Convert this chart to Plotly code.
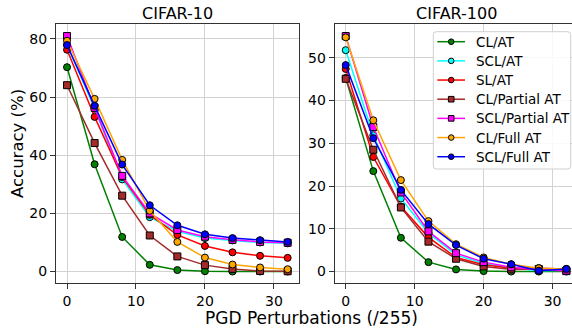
import plotly.graph_objects as go

x_vals = [0, 4, 8, 12, 16, 20, 24, 28, 32]
series_names = ["CL/AT", "SCL/AT", "SL/AT", "CL/Partial AT", "SCL/Partial AT", "CL/Full AT", "SCL/Full AT"]

c10_cl_at = [70.3, 36.9, 11.9, 2.3, 0.5, 0.1, 0.0, 0.0, 0.0]
c10_scl_at = [78.0, 56.0, 31.7, 18.7, 13.8, 11.5, 10.7, 10.0, 9.7]
c10_sl_at = [76.3, 53.2, 32.5, 19.5, 12.6, 8.8, 6.6, 5.4, 4.7]
c10_cl_partial = [64.1, 44.2, 26.1, 12.4, 5.2, 2.2, 0.9, 0.2, 0.1]
c10_scl_partial = [81.0, 56.3, 32.9, 20.0, 14.3, 12.0, 10.9, 10.2, 9.9]
c10_cl_full = [79.4, 59.4, 38.4, 20.9, 10.2, 4.8, 2.4, 1.4, 0.8]
c10_scl_full = [77.9, 57.0, 36.8, 22.8, 15.9, 12.8, 11.5, 10.8, 10.2]

c100_cl_at = [45.3, 23.5, 7.9, 2.2, 0.5, 0.1, 0.0, 0.0, 0.0]
c100_scl_at = [51.8, 31.9, 17.1, 9.0, 3.9, 1.9, 0.8, 0.2, 0.3]
c100_sl_at = [47.4, 26.8, 15.2, 8.0, 3.3, 1.6, 0.8, 0.8, 0.6]
c100_cl_partial = [45.1, 28.5, 15.0, 7.0, 3.0, 1.2, 0.5, 0.6, 0.1]
c100_scl_partial = [55.1, 33.8, 18.5, 9.4, 4.3, 2.2, 1.0, 0.4, 0.2]
c100_cl_full = [54.8, 35.4, 21.4, 11.8, 6.4, 3.3, 1.7, 0.8, 0.6]
c100_scl_full = [48.3, 31.2, 19.1, 11.1, 6.2, 3.0, 1.7, 0.2, 0.6]

colors = ["green", "cyan", "red", "brown", "magenta", "orange", "blue"]
symbols = ["circle", "circle", "circle", "square", "square", "circle", "circle"]

c10 = [c10_cl_at, c10_scl_at, c10_sl_at, c10_cl_partial, c10_scl_partial, c10_cl_full, c10_scl_full]
c100 = [c100_cl_at, c100_scl_at, c100_sl_at, c100_cl_partial, c100_scl_partial, c100_cl_full, c100_scl_full]

W, H = 572, 328
FONT = "DejaVu Sans"

fig = go.Figure()
for i, name in enumerate(series_names):
    mk = dict(symbol=symbols[i], color=colors[i], size=7,
              line=dict(color="black", width=1))
    fig.add_trace(go.Scatter(x=x_vals, y=c10[i], mode="lines+markers", name=name,
                             line=dict(color=colors[i], width=1.5), marker=mk,
                             xaxis="x", yaxis="y", showlegend=False))
for i, name in enumerate(series_names):
    mk = dict(symbol=symbols[i], color=colors[i], size=7,
              line=dict(color="black", width=1))
    fig.add_trace(go.Scatter(x=x_vals, y=c100[i], mode="lines+markers", name=name,
                             line=dict(color=colors[i], width=1.5), marker=mk,
                             xaxis="x2", yaxis="y2", showlegend=False))

def px_x(p):
    return p / W

def px_y(p):
    return 1 - p / H

left_dom = [px_x(56), px_x(298.7)]
right_dom = [px_x(334.7), 1.0]
y_dom = [px_y(283.3), px_y(24.3)]

axis_common = dict(
    showgrid=True, gridcolor="#d3d3d3", gridwidth=1.3,
    zeroline=False, ticks="outside", ticklen=5, tickwidth=1, tickcolor="#333",
    tickfont=dict(family=FONT, size=14, color="black"),
    linecolor="#333", linewidth=1, showline=True,
)

# ---- manual legend (matplotlib-style) ----
shapes = []
annotations = []
lx0, lx1, ly0, ly1 = 433.3, 570.7, 31.7, 169.0
r = 3
path = (f"M {px_x(lx0 + r)},{px_y(ly0)} L {px_x(lx1 - r)},{px_y(ly0)} "
        f"Q {px_x(lx1)},{px_y(ly0)} {px_x(lx1)},{px_y(ly0 + r)} "
        f"L {px_x(lx1)},{px_y(ly1 - r)} Q {px_x(lx1)},{px_y(ly1)} {px_x(lx1 - r)},{px_y(ly1)} "
        f"L {px_x(lx0 + r)},{px_y(ly1)} Q {px_x(lx0)},{px_y(ly1)} {px_x(lx0)},{px_y(ly1 - r)} "
        f"L {px_x(lx0)},{px_y(ly0 + r)} Q {px_x(lx0)},{px_y(ly0)} {px_x(lx0 + r)},{px_y(ly0)} Z")
shapes.append(dict(type="path", path=path, xref="paper", yref="paper",
                   fillcolor="rgba(255,255,255,0.85)", line=dict(color="#d0d0d0", width=1),
                   layer="above"))
item_y0, item_dy = 41.7, 19.17
for i, name in enumerate(series_names):
    yc = item_y0 + i * item_dy
    shapes.append(dict(type="line", xref="paper", yref="paper",
                       x0=px_x(437.3), x1=px_x(465), y0=px_y(yc), y1=px_y(yc),
                       line=dict(color=colors[i], width=1.5), layer="above"))
    s = 2.8
    shapes.append(dict(type="circle" if symbols[i] == "circle" else "rect",
                       xref="paper", yref="paper",
                       x0=px_x(451.2 - s), x1=px_x(451.2 + s), y0=px_y(yc + s), y1=px_y(yc - s),
                       fillcolor=colors[i], line=dict(color="black", width=1), layer="above"))
    annotations.append(dict(text=name, x=px_x(474), y=px_y(yc), xref="paper", yref="paper",
                            showarrow=False, xanchor="left", yanchor="middle",
                            font=dict(family=FONT, size=13.5, color="black")))

annotations += [
    dict(text="CIFAR-10", x=177.4 / W, y=px_y(13.5), xref="paper", yref="paper",
         showarrow=False, xanchor="center", yanchor="middle",
         font=dict(family=FONT, size=16, color="black")),
    dict(text="CIFAR-100", x=456 / W, y=px_y(13.5), xref="paper", yref="paper",
         showarrow=False, xanchor="center", yanchor="middle",
         font=dict(family=FONT, size=16, color="black")),
    dict(text="PGD Perturbations (/255)", x=311.7 / W, y=px_y(318), xref="paper", yref="paper",
         showarrow=False, xanchor="center", yanchor="middle",
         font=dict(family=FONT, size=17, color="black")),
    dict(text="Accuracy (%)", x=17.5 / W, y=px_y(143.5), xref="paper", yref="paper",
         showarrow=False, xanchor="center", yanchor="middle", textangle=-90,
         font=dict(family=FONT, size=16.5, color="black")),
]

fig.update_layout(
    width=W, height=H,
    margin=dict(l=0, r=0, t=0, b=0),
    paper_bgcolor="white", plot_bgcolor="white",
    font=dict(family=FONT, color="black"),
    showlegend=False,
    xaxis=dict(domain=left_dom, range=[-1.6, 33.6], tickvals=[0, 10, 20, 30],
               anchor="y", mirror=True, **axis_common),
    yaxis=dict(domain=y_dom, range=[-4.05, 85.05], tickvals=[0, 20, 40, 60, 80],
               anchor="x", mirror=True, **axis_common),
    xaxis2=dict(domain=right_dom, range=[-1.6, 32.82], tickvals=[0, 10, 20, 30],
                anchor="y2", mirror=True, **axis_common),
    yaxis2=dict(domain=y_dom, range=[-2.75, 57.85], tickvals=[0, 10, 20, 30, 40, 50],
                anchor="x2", mirror=False, **axis_common),
    shapes=shapes,
    annotations=annotations,
)

fig.write_html("out.html")
